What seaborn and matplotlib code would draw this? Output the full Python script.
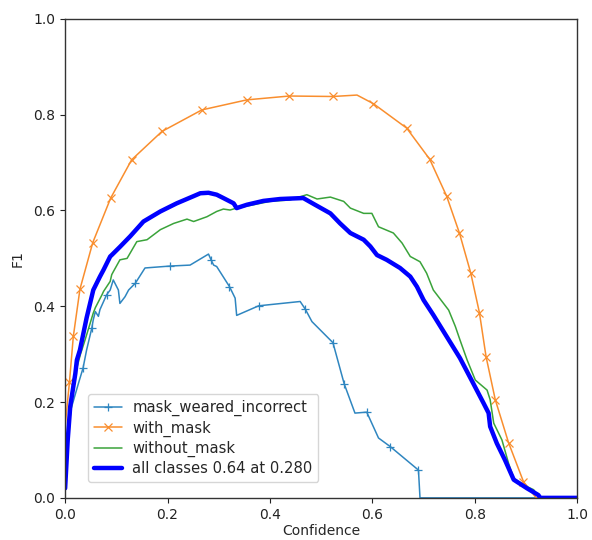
import numpy as np
import pandas as pd
import matplotlib
matplotlib.use("Agg")
import matplotlib.pyplot as plt
import seaborn as sns

# ---- data ----
incorrect_conf = [0.0, 0.010, 0.026, 0.035, 0.042, 0.052, 0.055, 0.059, 0.065, 0.068, 0.081, 0.088,
                  0.094, 0.104, 0.107, 0.117, 0.124, 0.137, 0.156, 0.205, 0.244, 0.280, 0.285, 0.290,
                  0.296, 0.321, 0.332, 0.335, 0.378, 0.459, 0.469, 0.482, 0.523, 0.545, 0.566, 0.589,
                  0.612, 0.635, 0.690, 0.693, 1.0]
incorrect_f1 = [0.03, 0.18, 0.239, 0.271, 0.309, 0.354, 0.372, 0.389, 0.379, 0.393, 0.424, 0.434,
                0.455, 0.434, 0.406, 0.420, 0.434, 0.448, 0.480, 0.484, 0.486, 0.509, 0.497, 0.486,
                0.483, 0.441, 0.417, 0.381, 0.401, 0.410, 0.394, 0.368, 0.324, 0.238, 0.177, 0.179,
                0.125, 0.107, 0.058, 0.0, 0.0]
incorrect_marks = [0.035, 0.052, 0.081, 0.137, 0.205, 0.285, 0.321, 0.378, 0.469, 0.523, 0.545,
                   0.589, 0.635, 0.690]

with_conf = [0.0, 0.0084, 0.016, 0.029, 0.054, 0.089, 0.130, 0.189, 0.267, 0.355, 0.438, 0.523,
             0.570, 0.602, 0.667, 0.712, 0.745, 0.770, 0.792, 0.809, 0.822, 0.840, 0.866, 0.895,
             0.905, 0.920, 1.0]
with_f1 = [0.15, 0.241, 0.337, 0.436, 0.533, 0.626, 0.706, 0.765, 0.810, 0.831, 0.839, 0.838,
           0.841, 0.823, 0.772, 0.707, 0.630, 0.553, 0.470, 0.387, 0.295, 0.205, 0.115, 0.034,
           0.02, 0.0, 0.0]
with_marks = [0.0084, 0.016, 0.029, 0.054, 0.089, 0.130, 0.189, 0.267, 0.355, 0.438, 0.523, 0.602,
              0.667, 0.712, 0.745, 0.770, 0.792, 0.809, 0.822, 0.840, 0.866, 0.895]

without_conf = [0.0, 0.010, 0.020, 0.030, 0.039, 0.049, 0.055, 0.059, 0.072, 0.075, 0.088, 0.091,
                0.094, 0.107, 0.121, 0.140, 0.160, 0.186, 0.212, 0.238, 0.251, 0.264, 0.277, 0.296,
                0.309, 0.322, 0.335, 0.368, 0.400, 0.439, 0.472, 0.492, 0.518, 0.544, 0.557, 0.583,
                0.599, 0.612, 0.641, 0.658, 0.674, 0.693, 0.706, 0.719, 0.739, 0.749, 0.762, 0.771,
                0.785, 0.801, 0.824, 0.830, 0.837, 0.853, 0.866, 0.876, 0.895, 0.915, 0.926, 1.0]
without_f1 = [0.03, 0.17, 0.26, 0.30, 0.330, 0.365, 0.386, 0.397, 0.424, 0.431, 0.452, 0.466,
              0.472, 0.497, 0.500, 0.535, 0.539, 0.560, 0.573, 0.582, 0.577, 0.582, 0.587, 0.598,
              0.603, 0.601, 0.605, 0.612, 0.619, 0.622, 0.633, 0.624, 0.628, 0.619, 0.605, 0.594,
              0.594, 0.566, 0.553, 0.532, 0.504, 0.493, 0.469, 0.434, 0.406, 0.392, 0.358, 0.330,
              0.288, 0.246, 0.225, 0.205, 0.156, 0.121, 0.072, 0.041, 0.027, 0.017, 0.0, 0.0]

all_conf = [0.0, 0.005, 0.010, 0.020, 0.023, 0.029, 0.042, 0.055, 0.068, 0.075, 0.088, 0.091,
            0.107, 0.127, 0.153, 0.186, 0.218, 0.251, 0.264, 0.280, 0.296, 0.309, 0.329, 0.335,
            0.355, 0.387, 0.420, 0.465, 0.488, 0.518, 0.537, 0.557, 0.583, 0.596, 0.609, 0.628,
            0.654, 0.674, 0.687, 0.700, 0.719, 0.745, 0.771, 0.797, 0.817, 0.827, 0.830, 0.843,
            0.859, 0.876, 0.902, 0.924, 0.928, 1.0]
all_f1 = [0.02, 0.12, 0.191, 0.260, 0.288, 0.309, 0.376, 0.434, 0.462, 0.476, 0.504, 0.507,
          0.524, 0.546, 0.577, 0.598, 0.615, 0.630, 0.636, 0.637, 0.633, 0.626, 0.615, 0.605,
          0.612, 0.620, 0.624, 0.626, 0.612, 0.594, 0.573, 0.553, 0.539, 0.525, 0.507, 0.497,
          0.480, 0.462, 0.441, 0.413, 0.382, 0.337, 0.292, 0.239, 0.198, 0.177, 0.149, 0.114,
          0.079, 0.038, 0.020, 0.006, 0.0, 0.0]

labels = ["mask_weared_incorrect", "with_mask", "without_mask", "all classes 0.64 at 0.280"]
ticks = [0.0, 0.2, 0.4, 0.6, 0.8, 1.0]

# ---- plotting ----
sns.set_theme(style="ticks")
plt.rcParams['font.family'] = ['DejaVu Sans']

fig = plt.figure(figsize=(5.92, 5.4), dpi=100)
ax = fig.add_axes([0.110, 0.078, 0.865, 0.887])


def mark_idx(conf, marks):
    return [i for i, c in enumerate(conf) if c in set(marks)]


series = [
    (incorrect_conf, incorrect_f1, incorrect_marks, "#2f86c0", "+", 1.1),
    (with_conf, with_f1, with_marks, "#f98e2e", "x", 1.1),
    (without_conf, without_f1, None, "#3aa33a", None, 1.1),
    (all_conf, all_f1, None, "blue", None, 3.2),
]

for (conf, f1, marks, color, marker, lw), lab in zip(series, labels):
    df = pd.DataFrame({"Confidence": conf, "F1": f1})
    kw = {}
    if marker:
        kw = dict(marker=marker, markevery=mark_idx(conf, marks), markersize=6,
                  markeredgewidth=0.9, markeredgecolor=color, markerfacecolor=color)
    sns.lineplot(data=df, x="Confidence", y="F1", ax=ax, sort=False, estimator=None,
                 color=color, linewidth=lw, label=lab, **kw)

ax.set_xlim(0, 1)
ax.set_ylim(0, 1)
ax.set_xticks(ticks)
ax.set_yticks(ticks)
ax.tick_params(labelsize=10, length=3.5, width=0.8, colors="#222222")
ax.set_xlabel("Confidence", fontsize=10, labelpad=2)
ax.set_ylabel("F1", fontsize=10, labelpad=6)
for s in ax.spines.values():
    s.set_linewidth(1.0)
    s.set_color("#333333")

leg = ax.legend(loc="lower left", fontsize=10.6, frameon=True, borderaxespad=0.0,
                bbox_to_anchor=(0.045, 0.033), labelspacing=0.28, handlelength=1.9,
                handletextpad=0.7)
leg.get_frame().set_edgecolor("#cccccc")

fig.savefig("out.png", dpi=100)
